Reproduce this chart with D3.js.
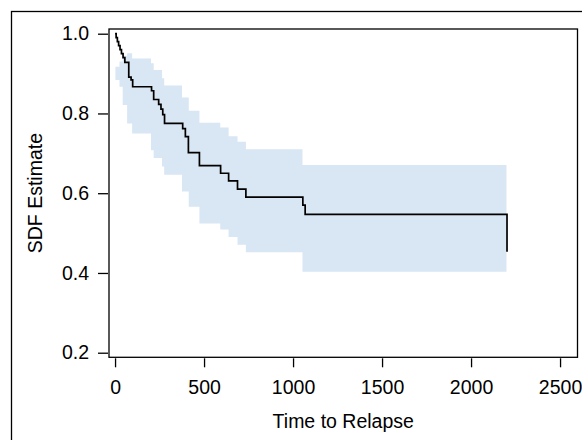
<!DOCTYPE html>
<html>
<head>
<meta charset="utf-8">
<script src="https://cdn.jsdelivr.net/npm/d3@7"></script>
<style>
  html, body { margin: 0; padding: 0; background: #fff; }
  svg { display: block; }
  text { font-family: "Liberation Sans", Arial, sans-serif; fill: #000; }
</style>
</head>
<body>
<svg id="chart" width="582" height="440"></svg>
<script>
// Kaplan-Meier step curve
const kmTimes = [0, 6, 13, 20, 28, 36, 45, 55, 77, 90, 99, 205, 217, 245, 258, 268, 278, 380, 395, 412, 474, 593, 638, 688, 735, 1055, 1068, 2202];
const kmSurv  = [1.000, 0.990, 0.980, 0.970, 0.960, 0.950, 0.940, 0.928, 0.891, 0.884, 0.867, 0.857, 0.835, 0.823, 0.811, 0.797, 0.775, 0.762, 0.742, 0.702, 0.669, 0.650, 0.631, 0.610, 0.590, 0.570, 0.547, 0.453];

// Confidence band (step)
const bandTimes = [2, 25, 43, 68, 96, 202, 217, 264, 276, 376, 414, 474, 591, 638, 688, 735, 1053, 2199];
const bandLower = [0.884, 0.867, 0.821, 0.775, 0.750, 0.708, 0.688, 0.667, 0.646, 0.604, 0.566, 0.524, 0.509, 0.490, 0.471, 0.452, 0.403, 0.403];
const bandUpper = [0.917, 0.930, 0.945, 0.951, 0.938, 0.926, 0.909, 0.888, 0.870, 0.840, 0.807, 0.777, 0.765, 0.743, 0.729, 0.710, 0.671, 0.671];

const xTicks = [0, 500, 1000, 1500, 2000, 2500];
const yTicks = [0.2, 0.4, 0.6, 0.8, 1.0];
const xTitle = "Time to Relapse";
const yTitle = "SDF Estimate";

const svg = d3.select("#chart");
const L = 109, R = 577.5, T = 29, B = 357.3;

const x = d3.scaleLinear().domain([-34, 2598]).range([L, R]);
const y = d3.scaleLinear().domain([0.1885, 1.0118]).range([B, T]);

// outer frame
svg.append("rect").attr("x", 11.5).attr("y", 11.5).attr("width", 700).attr("height", 700)
  .attr("fill", "none").attr("stroke", "#000").attr("stroke-width", 1.3);

// band
const band = bandTimes.map((t, i) => ({t, lo: bandLower[i], hi: bandUpper[i]}));
svg.append("path").datum(band)
  .attr("fill", "#d9e6f3")
  .attr("d", d3.area().curve(d3.curveStepAfter)
    .x(d => x(d.t)).y0(d => y(d.lo)).y1(d => y(d.hi)));

// KM line
const km = kmTimes.map((t, i) => ({t, s: kmSurv[i]}));
svg.append("path").datum(km)
  .attr("fill", "none").attr("stroke", "#000").attr("stroke-width", 1.7)
  .attr("d", d3.line().curve(d3.curveStepAfter).x(d => x(d.t)).y(d => y(d.s)));

// plot frame
svg.append("rect").attr("x", L).attr("y", T).attr("width", R - L).attr("height", B - T)
  .attr("fill", "none").attr("stroke", "#000").attr("stroke-width", 1.3);

// axes
const fs = 19.5;
const xAxis = svg.append("g").attr("transform", `translate(0,${B + 1})`)
  .call(d3.axisBottom(x).tickValues(xTicks).tickFormat(d3.format("d")).tickSize(9).tickPadding(13));
const yAxis = svg.append("g").attr("transform", `translate(${L - 1},0)`)
  .call(d3.axisLeft(y).tickValues(yTicks).tickFormat(d3.format(".1f")).tickSize(10).tickPadding(9));
[xAxis, yAxis].forEach(g => {
  g.select(".domain").remove();
  g.selectAll(".tick line").attr("stroke", "#000").attr("stroke-width", 1.3);
  g.selectAll(".tick text").attr("font-size", fs).attr("font-family", "Liberation Sans, Arial, sans-serif").attr("fill", "#000");
});

svg.append("text").attr("x", (L + R) / 2).attr("y", 428).attr("text-anchor", "middle")
  .attr("font-size", fs).text(xTitle);
svg.append("text").attr("transform", `translate(41.5,${(T + B) / 2}) rotate(-90)`)
  .attr("text-anchor", "middle").attr("font-size", fs).text(yTitle);
</script>
</body>
</html>
